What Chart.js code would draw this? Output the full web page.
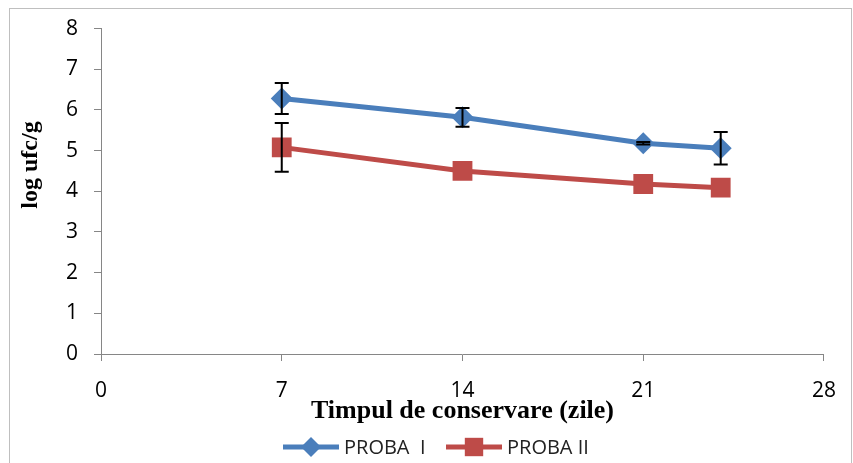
<!DOCTYPE html>
<html>
<head>
<meta charset="utf-8">
<script src="https://cdn.jsdelivr.net/npm/chart.js@4"></script>
<style>
  body { margin: 0; background: #fff; }
  #wrap { width: 853px; height: 463px; }
</style>
</head>
<body>
<div id="wrap"><canvas id="chart" width="853" height="463"></canvas></div>
<script>
const days = [7, 14, 21, 24];
const proba1 = [6.28, 5.82, 5.18, 5.06];
const proba1Err = [0.38, 0.23, 0.03, 0.40];
const proba2 = [5.08, 4.50, 4.18, 4.09];
const proba2Err = [0.60, 0, 0, 0];
const xTicks = [0, 7, 14, 21, 28];

const blue = "#4a7ebb";
const red = "#be4b48";

const toPoints = (vals) => days.map((d, i) => ({ x: d, y: vals[i] }));

// error bars + titles + legend + outer border
const extras = {
  id: "extras",
  beforeDraw(chart) {
    const ctx = chart.ctx;
    ctx.save();
    ctx.strokeStyle = "#bfbfbf";
    ctx.lineWidth = 1;
    ctx.strokeRect(9.5, 8.5, 842, 460);
    ctx.restore();
  },
  afterDatasetsDraw(chart) {
    const ctx = chart.ctx;
    const xs = chart.scales.x, ys = chart.scales.y;
    const errs = [proba1Err, proba2Err];
    ctx.save();
    ctx.strokeStyle = "#000";
    ctx.lineWidth = 2;
    chart.data.datasets.forEach((ds, di) => {
      ds.data.forEach((p, i) => {
        const e = errs[di][i];
        if (!e) return;
        const px = xs.getPixelForValue(p.x);
        const top = ys.getPixelForValue(p.y + e);
        const bot = ys.getPixelForValue(p.y - e);
        ctx.beginPath();
        ctx.moveTo(px, top); ctx.lineTo(px, bot);
        ctx.moveTo(px - 7, top); ctx.lineTo(px + 7, top);
        ctx.moveTo(px - 7, bot); ctx.lineTo(px + 7, bot);
        ctx.stroke();
      });
    });
    ctx.restore();
  },
  afterDraw(chart) {
    const ctx = chart.ctx;
    const area = chart.chartArea;
    ctx.save();
    ctx.fillStyle = "#000";
    ctx.textAlign = "center";
    ctx.textBaseline = "middle";
    ctx.font = "bold 26px 'Liberation Serif', 'Times New Roman', serif";
    ctx.fillText("Timpul de conservare (zile)", (area.left + area.right) / 2, 411);
    ctx.font = "bold 24px 'Liberation Serif', 'Times New Roman', serif";
    ctx.translate(31, 165);
    ctx.rotate(-Math.PI / 2);
    ctx.fillText("log ufc/g", 0, 0);
    ctx.restore();

    // legend
    const items = [
      { x: 283, label: "PROBA  I", color: blue, style: "rectRot", r: 10 },
      { x: 446, label: "PROBA II", color: red, style: "rect", r: 13 }
    ];
    const ly = 447;
    ctx.save();
    ctx.font = "20px 'Open Sans', sans-serif";
    ctx.textBaseline = "middle";
    items.forEach(it => {
      ctx.strokeStyle = it.color;
      ctx.lineWidth = 5;
      ctx.beginPath();
      ctx.moveTo(it.x, ly); ctx.lineTo(it.x + 56, ly);
      ctx.stroke();
      ctx.fillStyle = it.color;
      Chart.helpers.drawPoint(ctx, { pointStyle: it.style, radius: it.r, borderWidth: 0 }, it.x + 28, ly);
      ctx.fillStyle = "#222";
      ctx.fillText(it.label, it.x + 61, ly + 1);
    });
    ctx.restore();
  }
};

new Chart(document.getElementById("chart").getContext("2d"), {
  type: "line",
  data: {
    datasets: [
      {
        label: "PROBA  I",
        data: toPoints(proba1),
        borderColor: blue,
        backgroundColor: blue,
        borderWidth: 5,
        pointStyle: "rectRot",
        pointRadius: 11,
        pointBorderWidth: 0,
        tension: 0
      },
      {
        label: "PROBA II",
        data: toPoints(proba2),
        borderColor: red,
        backgroundColor: red,
        borderWidth: 5,
        pointStyle: "rect",
        pointRadius: 14,
        pointBorderWidth: 0,
        tension: 0
      }
    ]
  },
  options: {
    responsive: false,
    animation: false,
    layout: { padding: { left: 10, right: 29, top: 19, bottom: 0 } },
    plugins: { legend: { display: false }, tooltip: { enabled: false } },
    scales: {
      x: {
        type: "linear",
        min: 0,
        max: 28,
        afterBuildTicks: (s) => { s.ticks = xTicks.map(v => ({ value: v })); },
        afterFit: (s) => { s.height = 109; },
        grid: { drawOnChartArea: false, color: "#868686", tickLength: 7 },
        border: { color: "#868686", width: 1 },
        ticks: {
          color: "#000",
          padding: 17,
          font: { family: "'Open Sans', sans-serif", size: 21 }
        }
      },
      y: {
        min: 0,
        max: 8,
        afterFit: (s) => { s.width = 91; },
        grid: { drawOnChartArea: false, color: "#868686", tickLength: 7 },
        border: { color: "#868686", width: 1 },
        ticks: {
          stepSize: 1,
          color: "#000",
          padding: 16,
          font: { family: "'Open Sans', sans-serif", size: 21 }
        }
      }
    }
  },
  plugins: [extras]
});
</script>
</body>
</html>
